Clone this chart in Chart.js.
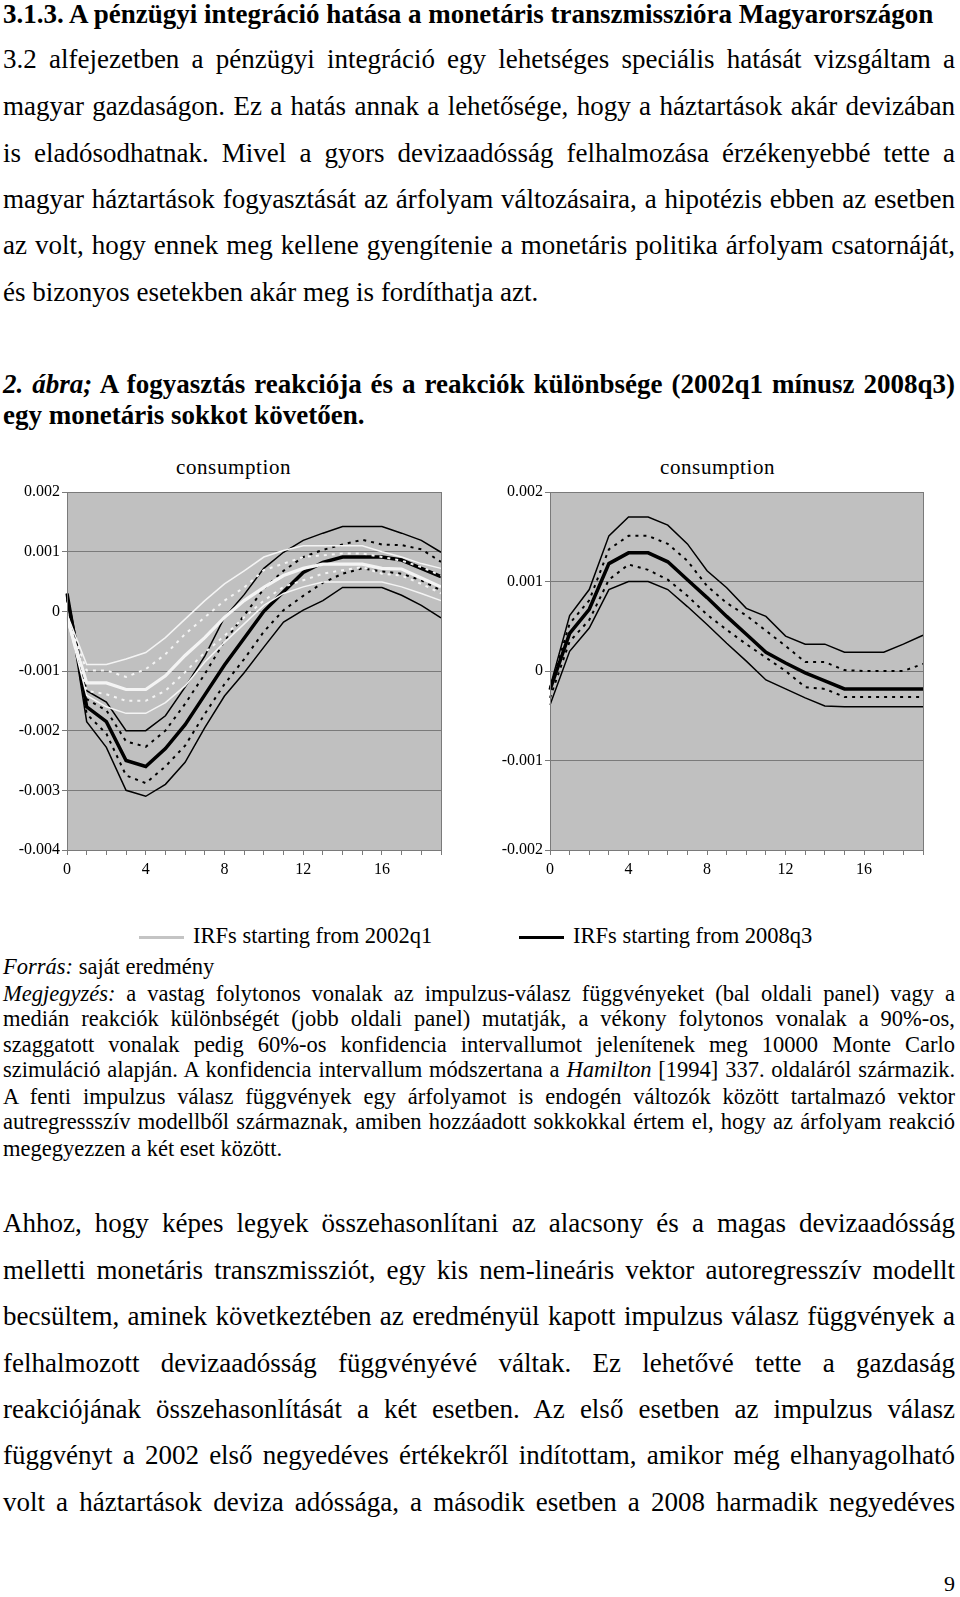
<!DOCTYPE html>
<html lang="hu">
<head>
<meta charset="utf-8">
<title>2. ábra</title>
<script src="https://cdn.jsdelivr.net/npm/chart.js@4.4.0/dist/chart.umd.min.js"></script>
<style>
  html, body { margin: 0; padding: 0; background: #fff; }
  body { width: 960px; height: 1597px; position: relative; overflow: hidden;
         font-family: "Liberation Serif", "Times New Roman", serif; color: #000; }
  .ln { position: absolute; left: 3px; width: 952px; font-size: 27px; line-height: 30px;
        text-align: justify; text-align-last: justify; }
  .last { text-align-last: left; }
  .b { font-weight: bold; }
  .note { font-size: 22.5px; line-height: 26px; }
  .ttl { position: absolute; top: 452px; font-size: 21px; letter-spacing: 0.6px; line-height: 30px; }
  .leg { position: absolute; top: 923px; font-size: 22.5px; line-height: 26px; white-space: nowrap; }
  .leg i { display: inline-block; width: 45px; height: 3px; vertical-align: middle; margin-right: 9px; }
  canvas { position: absolute; }
</style>
</head>
<body>

<div class="ln b last" style="top:-1px">3.1.3. A pénzügyi integráció hatása a monetáris transzmisszióra Magyarországon</div>

<div class="ln" style="top:44px">3.2 alfejezetben a pénzügyi integráció egy lehetséges speciális hatását vizsgáltam a</div>
<div class="ln" style="top:91px">magyar gazdaságon. Ez a hatás annak a lehetősége, hogy a háztartások akár devizában</div>
<div class="ln" style="top:138px">is eladósodhatnak. Mivel a gyors devizaadósság felhalmozása érzékenyebbé tette a</div>
<div class="ln" style="top:184px">magyar háztartások fogyasztását az árfolyam változásaira, a hipotézis ebben az esetben</div>
<div class="ln" style="top:230px">az volt, hogy ennek meg kellene gyengítenie a monetáris politika árfolyam csatornáját,</div>
<div class="ln last" style="top:277px">és bizonyos esetekben akár meg is fordíthatja azt.</div>

<div class="ln b" style="top:369px"><i>2. ábra;</i> A fogyasztás reakciója és a reakciók különbsége (2002q1 mínusz 2008q3)</div>
<div class="ln b last" style="top:400px">egy monetáris sokkot követően.</div>

<div class="ttl" style="left:176px">consumption</div>
<div class="ttl" style="left:660px">consumption</div>
<canvas id="leftChart" width="470" height="430" style="left:0;top:450px"></canvas>
<canvas id="rightChart" width="470" height="430" style="left:480px;top:450px"></canvas>

<div class="leg" style="left:139px"><i style="background:#c4c4c4"></i>IRFs starting from 2002q1</div>
<div class="leg" style="left:519px"><i style="background:#000"></i>IRFs starting from 2008q3</div>

<div class="ln note last" style="top:954px"><i>Forrás:</i> saját eredmény</div>
<div class="ln note" style="top:981px"><i>Megjegyzés:</i> a vastag folytonos vonalak az impulzus-válasz függvényeket (bal oldali panel) vagy a</div>
<div class="ln note" style="top:1006px">medián reakciók különbségét (jobb oldali panel) mutatják, a vékony folytonos vonalak a 90%-os,</div>
<div class="ln note" style="top:1032px">szaggatott vonalak pedig 60%-os konfidencia intervallumot jelenítenek meg 10000 Monte Carlo</div>
<div class="ln note" style="top:1057px">szimuláció alapján. A konfidencia intervallum módszertana a <i>Hamilton</i> [1994] 337. oldaláról származik.</div>
<div class="ln note" style="top:1084px">A fenti impulzus válasz függvények egy árfolyamot is endogén változók között tartalmazó vektor</div>
<div class="ln note" style="top:1109px">autregressszív modellből származnak, amiben hozzáadott sokkokkal értem el, hogy az árfolyam reakció</div>
<div class="ln note last" style="top:1136px">megegyezzen a két eset között.</div>

<div class="ln" style="top:1208px">Ahhoz, hogy képes legyek összehasonlítani az alacsony és a magas devizaadósság</div>
<div class="ln" style="top:1255px">melletti monetáris transzmissziót, egy kis nem-lineáris vektor autoregresszív modellt</div>
<div class="ln" style="top:1301px">becsültem, aminek következtében az eredményül kapott impulzus válasz függvények a</div>
<div class="ln" style="top:1348px">felhalmozott devizaadósság függvényévé váltak. Ez lehetővé tette a gazdaság</div>
<div class="ln" style="top:1394px">reakciójának összehasonlítását a két esetben. Az első esetben az impulzus válasz</div>
<div class="ln" style="top:1440px">függvényt a 2002 első negyedéves értékekről indítottam, amikor még elhanyagolható</div>
<div class="ln" style="top:1487px">volt a háztartások deviza adóssága, a második esetben a 2008 harmadik negyedéves</div>

<div style="position:absolute; right:5px; top:1571px; font-size:22px; line-height:26px">9</div>

<script>
// horizon (quarters after the shock), values in thousandths
var horizons = [0, 1, 2, 3, 4, 5, 6, 7, 8, 9, 10, 11, 12, 13, 14, 15, 16, 17, 18, 19];
var xTickLabels = ['0', '4', '8', '12', '16'];
var leftYTicks = ['0.002', '0.001', '0', '-0.001', '-0.002', '-0.003', '-0.004'];
var rightYTicks = ['0.002', '0.001', '0', '-0.001', '-0.002'];

// left panel: consumption IRF, start 2008q3 (black)
var med08  = [0.3, -1.6, -1.85, -2.5, -2.6, -2.3, -1.9, -1.4, -0.9, -0.45, 0.0, 0.33, 0.65, 0.82, 0.91, 0.91, 0.91, 0.86, 0.72, 0.58];
var hi90_08 = [0.3, -1.33, -1.52, -2.0, -2.0, -1.75, -1.27, -0.75, -0.1, 0.28, 0.72, 0.99, 1.19, 1.31, 1.42, 1.42, 1.42, 1.31, 1.19, 0.99];
var lo90_08 = [0.25, -1.85, -2.28, -3.0, -3.1, -2.9, -2.53, -1.95, -1.42, -1.03, -0.6, -0.18, 0.02, 0.18, 0.4, 0.4, 0.4, 0.27, 0.1, -0.11];
var hi60_08 = [0.25, -1.47, -1.66, -2.18, -2.27, -2.0, -1.55, -1.05, -0.5, -0.07, 0.38, 0.68, 0.91, 1.03, 1.12, 1.2, 1.12, 1.11, 1.04, 0.83];
var lo60_08 = [0.2, -1.72, -2.05, -2.75, -2.88, -2.6, -2.25, -1.72, -1.22, -0.8, -0.34, 0.02, 0.26, 0.48, 0.63, 0.72, 0.67, 0.63, 0.52, 0.35];

// left panel: consumption IRF, start 2002q1 (white)
var med02  = [-0.1, -1.2, -1.2, -1.31, -1.31, -1.08, -0.74, -0.44, -0.1, 0.18, 0.4, 0.6, 0.72, 0.79, 0.79, 0.79, 0.72, 0.71, 0.56, 0.41];
var hi90_02 = [-0.05, -0.89, -0.89, -0.8, -0.69, -0.44, -0.13, 0.18, 0.46, 0.68, 0.91, 1.02, 1.1, 1.1, 1.1, 1.1, 1.0, 0.91, 0.8, 0.72];
var lo90_02 = [-0.12, -1.41, -1.6, -1.71, -1.71, -1.53, -1.25, -0.85, -0.52, -0.21, 0.1, 0.3, 0.41, 0.49, 0.49, 0.49, 0.49, 0.41, 0.3, 0.18];
var hi60_02 = [-0.08, -0.99, -0.99, -1.1, -0.97, -0.72, -0.38, -0.1, 0.18, 0.4, 0.69, 0.8, 0.91, 0.94, 0.97, 0.97, 0.91, 0.85, 0.74, 0.6];
var lo60_02 = [-0.1, -1.33, -1.39, -1.5, -1.5, -1.33, -1.02, -0.69, -0.41, -0.1, 0.18, 0.41, 0.52, 0.63, 0.69, 0.74, 0.63, 0.6, 0.46, 0.3];

// right panel: difference of median reactions (2002q1 minus 2008q3)
var diffMed  = [-0.21, 0.42, 0.69, 1.2, 1.32, 1.32, 1.22, 1.02, 0.82, 0.61, 0.41, 0.21, 0.09, -0.02, -0.11, -0.2, -0.2, -0.2, -0.2, -0.2];
var diffHi90 = [-0.18, 0.62, 0.91, 1.51, 1.72, 1.72, 1.63, 1.42, 1.12, 0.93, 0.7, 0.61, 0.39, 0.3, 0.3, 0.21, 0.21, 0.21, 0.3, 0.4];
var diffLo90 = [-0.38, 0.22, 0.48, 0.91, 1.0, 1.0, 0.91, 0.72, 0.52, 0.31, 0.11, -0.1, -0.2, -0.3, -0.39, -0.4, -0.4, -0.4, -0.4, -0.4];
var diffHi60 = [-0.2, 0.53, 0.79, 1.36, 1.51, 1.51, 1.42, 1.23, 0.95, 0.76, 0.62, 0.45, 0.28, 0.1, 0.1, 0.01, 0.0, 0.0, 0.0, 0.08];
var diffLo60 = [-0.3, 0.33, 0.57, 1.02, 1.19, 1.13, 1.02, 0.84, 0.63, 0.46, 0.3, 0.15, 0.0, -0.18, -0.2, -0.29, -0.29, -0.29, -0.29, -0.29];

var serif = "'Liberation Serif', 'Times New Roman', serif";

// grey plot area with a frame, like the old Excel charts
var plotFrame = {
    id: 'plotFrame',
    beforeDraw: function (chart) {
        var a = chart.chartArea, ctx = chart.ctx;
        ctx.save();
        ctx.fillStyle = '#c0c0c0';
        ctx.fillRect(a.left, a.top, a.right - a.left, a.bottom - a.top);
        ctx.restore();
    },
    afterDraw: function (chart) {
        var a = chart.chartArea, ctx = chart.ctx;
        ctx.save();
        ctx.strokeStyle = '#7a7a7a';
        ctx.lineWidth = 1;
        ctx.strokeRect(Math.round(a.left) + 0.5, Math.round(a.top) + 0.5,
                       Math.round(a.right - a.left), Math.round(a.bottom - a.top));
        ctx.restore();
    }
};

function line(data, color, width, dash) {
    return {
        data: data,
        borderColor: color,
        borderWidth: width,
        borderDash: dash || [],
        pointRadius: 0,
        tension: 0,
        fill: false
    };
}

function panel(id, datasets, yTicks, yWidth, padRight) {
    var ctx = document.getElementById(id).getContext('2d');
    return new Chart(ctx, {
        type: 'line',
        data: { labels: horizons, datasets: datasets },
        plugins: [plotFrame],
        options: {
            responsive: false,
            animation: false,
            devicePixelRatio: 1,
            layout: { padding: { top: 42, right: padRight, left: 0, bottom: 0 } },
            plugins: { legend: { display: false }, tooltip: { enabled: false } },
            scales: {
                x: {
                    grid: { drawOnChartArea: false, color: '#7a7a7a', tickLength: 5 },
                    border: { color: '#7a7a7a' },
                    ticks: {
                        autoSkip: false, maxRotation: 0, padding: 5, color: '#000',
                        font: { family: serif, size: 16 },
                        callback: function (v, i) {
                            return xTickLabels.indexOf(String(horizons[i])) >= 0 ? String(horizons[i]) : '';
                        }
                    },
                    afterFit: function (s) { s.height = 30; }
                },
                y: {
                    min: parseFloat(yTicks[yTicks.length - 1]) * 1000,
                    max: parseFloat(yTicks[0]) * 1000,
                    afterBuildTicks: function (s) {
                        s.ticks = yTicks.map(function (t) { return { value: parseFloat(t) * 1000 }; });
                    },
                    grid: { color: '#7a7a7a', tickLength: 5 },
                    border: { color: '#7a7a7a' },
                    ticks: {
                        padding: 2, color: '#000',
                        font: { family: serif, size: 16 },
                        callback: function (v) {
                            for (var k = 0; k < yTicks.length; k++) {
                                if (Math.abs(parseFloat(yTicks[k]) * 1000 - v) < 1e-6) return yTicks[k];
                            }
                            return '';
                        }
                    },
                    afterFit: function (s) { s.width = yWidth; }
                }
            }
        }
    });
}

var white = '#f4f4f4';
panel('leftChart', [
    line(hi90_02, white, 1.5),
    line(lo90_02, white, 1.5),
    line(hi60_02, white, 2, [3, 5]),
    line(lo60_02, white, 2, [3, 5]),
    line(med02, white, 3.2),
    line(hi90_08, '#000', 1.5),
    line(lo90_08, '#000', 1.5),
    line(hi60_08, '#000', 2, [3, 5]),
    line(lo60_08, '#000', 2, [3, 5]),
    line(med08, '#000', 3.5)
], leftYTicks, 67, 29);

panel('rightChart', [
    line(diffHi90, '#000', 1.5),
    line(diffLo90, '#000', 1.5),
    line(diffHi60, '#000', 2, [3, 5]),
    line(diffLo60, '#000', 2, [3, 5]),
    line(diffMed, '#000', 3.5)
], rightYTicks, 70, 27);
</script>
</body>
</html>
